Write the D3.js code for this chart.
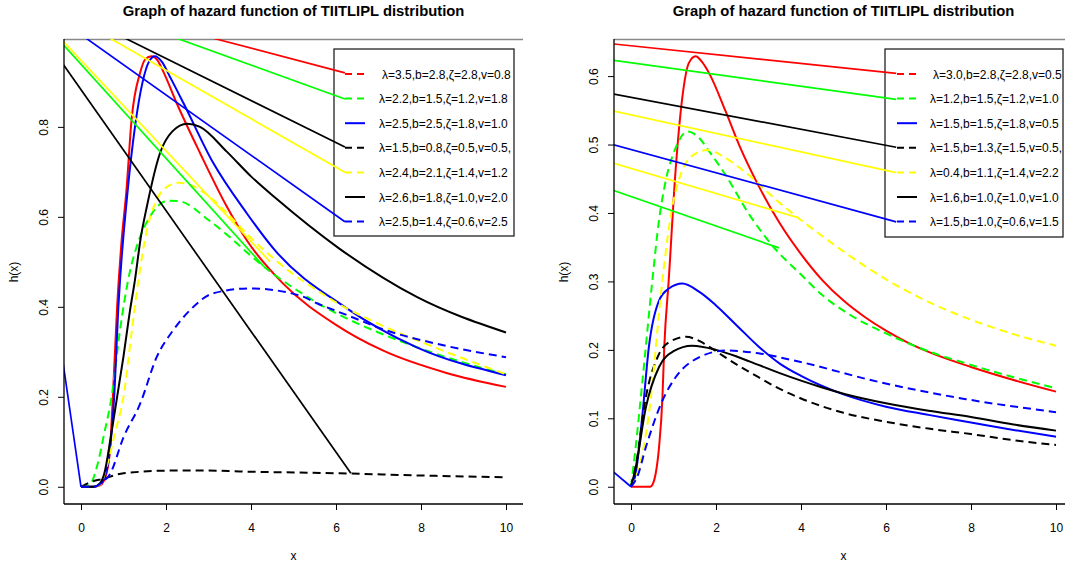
<!DOCTYPE html>
<html>
<head>
<script src="https://d3js.org/d3.v7.min.js"></script>
<style>
  body{margin:0;background:#fff;}
  text{font-family:"Liberation Sans",Arial,sans-serif;}
</style>
</head>
<body>
<svg id="chart" width="1065" height="567"></svg>
<script>
// ---- data ----
const leftLegend=["λ=3.5,b=2.8,ζ=2.8,v=0.8","λ=2.2,b=1.5,ζ=1.2,v=1.8","λ=2.5,b=2.5,ζ=1.8,v=1.0","λ=1.5,b=0.8,ζ=0.5,v=0.5,","λ=2.4,b=2.1,ζ=1.4,v=1.2","λ=2.6,b=1.8,ζ=1.0,v=2.0","λ=2.5,b=1.4,ζ=0.6,v=2.5"];
const rightLegend=["λ=3.0,b=2.8,ζ=2.8,v=0.5","λ=1.2,b=1.5,ζ=1.2,v=1.0","λ=1.5,b=1.5,ζ=1.8,v=0.5","λ=1.5,b=1.3,ζ=1.5,v=0.5,","λ=0.4,b=1.1,ζ=1.4,v=2.2","λ=1.6,b=1.0,ζ=1.0,v=1.0","λ=1.5,b=1.0,ζ=0.6,v=1.5"];
const seriesColors=["#ff0000","#00ff00","#0000ff","#000000","#ffff00","#000000","#0000ff"];
const seriesDashed=[false,true,false,true,true,false,true];
const legendDashed=[true,true,false,true,true,false,true];

const xTicks=[0,2,4,6,8,10];
const leftYTicks=[0,0.2,0.4,0.6,0.8];
const rightYTicks=[0,0.1,0.2,0.3,0.4,0.5,0.6];

// left panel curves
const lRed=[[0,0],[0.3,0],[0.45,0.003],[0.6,0.03],[0.68,0.08],[0.75,0.2],[0.85,0.4],[0.95,0.54],[1.07,0.66],[1.19,0.816],[1.39,0.92],[1.51,0.95],[1.66,0.957],[1.8,0.948],[1.95,0.92],[2.25,0.853],[2.8,0.742],[3.43,0.623],[3.9,0.548],[4.75,0.452],[6.0,0.36],[7.1,0.303],[8.6,0.253],[10,0.222]];
const lGreen=[[0,0],[0.21,0.005],[0.37,0.043],[0.55,0.12],[0.72,0.2],[0.92,0.35],[1.11,0.46],[1.35,0.545],[1.62,0.6],[2.05,0.636],[2.3,0.635],[3.0,0.593],[3.5,0.555],[4.0,0.513],[4.5,0.475],[5.0,0.442],[5.5,0.412],[6.0,0.386],[7.0,0.343],[8.0,0.307],[9.0,0.276],[10,0.25]];
const lBlue=[[0,0],[0.3,0],[0.45,0.005],[0.6,0.035],[0.7,0.1],[0.78,0.2],[0.88,0.4],[1.1,0.66],[1.27,0.8],[1.45,0.9],[1.6,0.945],[1.74,0.957],[1.9,0.945],[2.1,0.91],[2.41,0.853],[3.11,0.72],[3.9,0.608],[4.56,0.526],[6.2,0.4],[7.9,0.31],[10,0.248]];
const lBlackDash=[[0,0],[0.21,0.01],[0.53,0.018],[1.0,0.03],[2.17,0.036],[3.0,0.036],[3.74,0.034],[6.09,0.03],[8,0.025],[10,0.021]];
const lYellow=[[0,0],[0.3,0],[0.45,0.005],[0.6,0.043],[0.8,0.12],[1.0,0.2],[1.2,0.35],[1.35,0.459],[1.55,0.57],[1.78,0.638],[2.0,0.665],[2.3,0.676],[2.6,0.67],[2.8,0.66],[3.2,0.63],[3.6,0.592],[4.0,0.553],[4.5,0.51],[5.0,0.472],[5.5,0.44],[6.0,0.41],[7.0,0.362],[8.0,0.322],[9.0,0.285],[10,0.25]];
const lBlack=[[0,0],[0.3,0],[0.45,0.008],[0.55,0.03],[0.7,0.11],[0.85,0.2],[1.0,0.29],[1.15,0.39],[1.27,0.46],[1.4,0.55],[1.55,0.623],[1.86,0.742],[2.15,0.79],[2.5,0.807],[2.8,0.8],[3.43,0.745],[4.0,0.69],[4.6,0.64],[6.07,0.53],[7.9,0.422],[10,0.343]];
const lBlueDash=[[0,0],[0.3,0],[0.5,0.01],[0.68,0.028],[1.0,0.11],[1.39,0.184],[1.78,0.288],[2.17,0.348],[2.56,0.392],[3.11,0.43],[3.98,0.441],[5.15,0.425],[5.55,0.408],[6.3,0.38],[7.11,0.35],[8.5,0.315],[10,0.288]];

// right panel curves
const rRed=[[0,0],[0.45,0],[0.52,0.005],[0.58,0.019],[0.66,0.058],[0.74,0.131],[0.78,0.2],[0.89,0.304],[1.05,0.463],[1.21,0.57],[1.36,0.619],[1.52,0.629],[1.68,0.62],[1.84,0.604],[2.23,0.548],[2.54,0.5],[3.0,0.44],[3.5,0.385],[4.0,0.34],[4.5,0.302],[5.0,0.272],[5.5,0.248],[6.0,0.228],[6.5,0.211],[7.0,0.197],[8.0,0.175],[9.0,0.156],[10,0.139]];
const rGreen=[[0,0],[0.11,0.058],[0.27,0.155],[0.5,0.3],[0.66,0.39],[0.82,0.448],[1.05,0.495],[1.33,0.519],[1.6,0.51],[1.84,0.49],[2.23,0.455],[2.78,0.398],[3.4,0.347],[4.0,0.31],[4.5,0.28],[5.13,0.252],[6.0,0.224],[7.0,0.198],[8.0,0.178],[9.0,0.16],[10,0.144]];
const rBlue=[[0,0],[0.11,0.019],[0.27,0.106],[0.42,0.204],[0.66,0.272],[0.9,0.29],[1.21,0.297],[1.6,0.285],[2.0,0.265],[2.5,0.235],[3.0,0.205],[3.5,0.18],[4.0,0.162],[5.0,0.135],[6.0,0.117],[7.0,0.105],[8.0,0.094],[9.0,0.083],[10,0.073]];
const rBlackDash=[[0,0],[0.11,0.03],[0.35,0.131],[0.66,0.194],[0.95,0.213],[1.29,0.219],[1.7,0.21],[2.0,0.198],[2.5,0.178],[3.0,0.16],[3.5,0.143],[4.0,0.129],[5.0,0.108],[6.0,0.095],[7.0,0.085],[8.0,0.077],[9.0,0.068],[10,0.061]];
const rYellow=[[0,0],[0.19,0.028],[0.42,0.106],[0.74,0.302],[0.93,0.394],[1.21,0.463],[1.5,0.486],[1.8,0.492],[2.23,0.48],[2.78,0.455],[3.4,0.42],[3.95,0.392],[4.42,0.37],[5.13,0.338],[6.31,0.292],[7.0,0.27],[8.0,0.244],[9.0,0.223],[10,0.206]];
const rBlack=[[0,0],[0.11,0.028],[0.35,0.116],[0.66,0.175],[1.0,0.198],[1.44,0.206],[2.0,0.2],[2.5,0.19],[3.0,0.178],[3.5,0.166],[4.0,0.155],[4.5,0.145],[5.0,0.136],[6.0,0.122],[7.0,0.111],[8.0,0.102],[9.0,0.091],[10,0.082]];
const rBlueDash=[[0,0],[0.15,0.015],[0.35,0.058],[0.74,0.126],[1.05,0.16],[1.6,0.189],[2.23,0.199],[3.0,0.195],[3.8,0.185],[5.84,0.153],[7.88,0.128],[10,0.109]];

// straight segments in each panel: [x0,y0,x1,y1,colorIndex]
const leftSegments=[
  [3.11,0.997,6.21,0.920,0],
  [2.25,0.997,6.21,0.862,1],
  [1.04,0.997,6.21,0.755,3],
  [0.68,0.997,6.21,0.699,4],
  [0.12,0.997,6.21,0.589,6],
  [-0.42,0.990,4.45,0.500,4],
  [-0.42,0.983,4.30,0.490,1],
  [-0.42,0.939,6.35,0.030,3],
  [-0.42,0.274,0,0,2]
];
const rightSegments=[
  [-0.42,0.647,6.24,0.604,0],
  [-0.42,0.623,6.24,0.566,1],
  [-0.42,0.574,6.24,0.496,3],
  [-0.42,0.549,6.24,0.459,4],
  [-0.42,0.500,6.24,0.387,6],
  [-0.42,0.473,3.94,0.393,4],
  [-0.42,0.433,3.48,0.349,1],
  [-0.42,0.022,0,0,2]
];

const svg=d3.select("#chart");

function drawPanel(cfg){
    let g=svg.append("g");
    let x=d3.scaleLinear().domain([-0.4,10.4]).range([cfg.left,cfg.left+459]);
    let y=d3.scaleLinear().domain(cfg.ydom).range([504,39]);
    let clipId="clip"+cfg.id;
    g.append("clipPath").attr("id",clipId)
        .append("rect").attr("x",cfg.left).attr("y",39).attr("width",459).attr("height",465);

    // frame
    g.append("line").attr("x1",cfg.left).attr("x2",cfg.left+459).attr("y1",39.5).attr("y2",39.5)
        .style("stroke","#888").style("stroke-width",1.5);

    let plot=g.append("g").attr("clip-path","url(#"+clipId+")");
    let line=d3.line().x(d=>x(d[0])).y(d=>y(d[1])).curve(d3.curveMonotoneX);

    plot.selectAll("path.curve").data(cfg.curves)
        .join("path")
        .attr("class","curve")
        .attr("d",line)
        .style("fill","none")
        .style("stroke",(d,i)=>seriesColors[i])
        .style("stroke-width",2)
        .style("stroke-dasharray",(d,i)=>seriesDashed[i]?"8,5":null);

    // legend box
    let lb=cfg.legendBox;
    g.append("rect").attr("x",lb[0]).attr("y",lb[1]).attr("width",lb[2]).attr("height",lb[3])
        .style("fill","#fff").style("stroke","#222").style("stroke-width",1.3);

    let segs=g.append("g").attr("clip-path","url(#"+clipId+")");
    segs.selectAll("line.seg").data(cfg.segments)
        .join("line")
        .attr("class","seg")
        .attr("x1",d=>x(d[0])).attr("y1",d=>y(d[1]))
        .attr("x2",d=>x(d[2])).attr("y2",d=>y(d[3]))
        .style("stroke",d=>seriesColors[d[4]])
        .style("stroke-width",1.7);

    let leg=g.append("g");
    cfg.legend.forEach((t,i)=>{
        let ly=74+i*24.6;
        leg.append("line").attr("x1",cfg.sampleX).attr("x2",cfg.sampleX+20)
            .attr("y1",ly).attr("y2",ly)
            .style("stroke",seriesColors[i]).style("stroke-width",2)
            .style("stroke-dasharray",legendDashed[i]?"7,5":null);
        leg.append("text").attr("x",cfg.textX+(i==0?3:0)).attr("y",ly+4.5)
            .style("font-size","12px").text(t);
    });

    // axes
    g.append("line").attr("x1",cfg.left).attr("x2",cfg.left).attr("y1",39).attr("y2",504)
        .style("stroke","#000").style("stroke-width",1.3);
    g.append("line").attr("x1",cfg.left).attr("x2",cfg.left+459).attr("y1",504).attr("y2",504)
        .style("stroke","#000").style("stroke-width",1.3);

    let xa=g.append("g").attr("transform","translate(0,504)")
        .call(d3.axisBottom(x).tickValues(xTicks).tickSize(6).tickPadding(13).tickFormat(d3.format("d")));
    xa.select(".domain").remove();
    xa.selectAll("text").style("font-size","12px").style("font-family","Liberation Sans, Arial").attr("fill","#000");

    let ya=g.append("g").attr("transform","translate("+cfg.left+",0)")
        .call(d3.axisLeft(y).tickValues(cfg.yticks).tickSize(6).tickFormat(d3.format(".1f")));
    ya.select(".domain").remove();
    ya.selectAll("text").remove();
    ya.selectAll(".tick").append("text")
        .attr("transform","translate(-16,0) rotate(-90)")
        .attr("text-anchor","middle")
        .style("font-size","12px").attr("fill","#000")
        .text(d=>d3.format(".1f")(d));

    let cx=cfg.left+229.5;
    g.append("text").attr("x",cx).attr("y",16).attr("text-anchor","middle")
        .style("font-size","14.8px").style("font-weight","bold")
        .text("Graph of hazard function of TIITLIPL distribution");
    g.append("text").attr("x",cx).attr("y",560).attr("text-anchor","middle")
        .style("font-size","12px").text("x");
    g.append("text").attr("transform","translate("+(cfg.left-46)+",272) rotate(-90)")
        .attr("text-anchor","middle").style("font-size","12px").text("h(x)");
}

drawPanel({id:"L",left:64,ydom:[-0.0383,0.9953],yticks:leftYTicks,
    curves:[lRed,lGreen,lBlue,lBlackDash,lYellow,lBlack,lBlueDash],
    segments:leftSegments,legend:leftLegend,
    legendBox:[334,49,180,187],sampleX:345,textX:379});
drawPanel({id:"R",left:614,ydom:[-0.0252,0.6542],yticks:rightYTicks,
    curves:[rRed,rGreen,rBlue,rBlackDash,rYellow,rBlack,rBlueDash],
    segments:rightSegments,legend:rightLegend,
    legendBox:[885,49,178,188],sampleX:897,textX:930});
</script>
</body>
</html>
